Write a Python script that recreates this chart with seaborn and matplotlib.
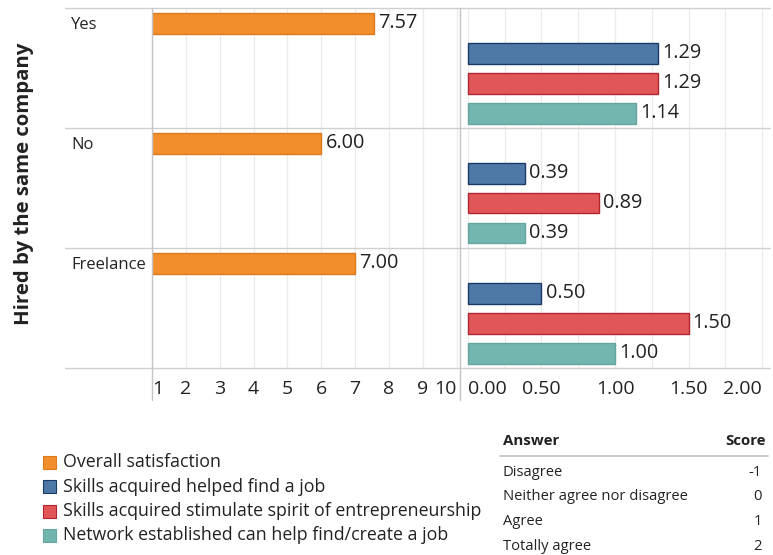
import numpy as np
import pandas as pd
import matplotlib
matplotlib.use("Agg")
import matplotlib.pyplot as plt
import matplotlib.colors as mcolors
from matplotlib.lines import Line2D
from matplotlib.patches import Rectangle
import seaborn as sns

# ---------------- data ----------------
groups = ["Yes", "No", "Freelance"]
measures = [
    "Overall satisfaction",
    "Skills acquired helped find a job",
    "Skills acquired stimulate spirit of entrepreneurship",
    "Network established can help find/create a job",
]
satisfaction = [7.57, 6.00, 7.00]
helped_find_job = [1.29, 0.39, 0.50]
entrepreneurship = [1.29, 0.89, 1.50]
network = [1.14, 0.39, 1.00]
left_ticks = list(range(1, 11))
right_ticks = [0.0, 0.5, 1.0, 1.5, 2.0]
answers = ["Disagree", "Neither agree nor disagree", "Agree", "Totally agree"]
scores = ["-1", "0", "1", "2"]
y_title = "Hired by the same company"

colors = ["#F28E2B", "#4E79A7", "#E15759", "#72B6AF"]
edge_colors = ["#DD7A1C", "#1C3A66", "#B0262E", "#64A59F"]
palette = dict(zip(measures, colors))

left_df = pd.DataFrame({"group": groups, "measure": measures[0], "value": satisfaction})
right_df = pd.concat([
    pd.DataFrame({"group": groups, "measure": measures[1], "value": helped_find_job}),
    pd.DataFrame({"group": groups, "measure": measures[2], "value": entrepreneurship}),
    pd.DataFrame({"group": groups, "measure": measures[3], "value": network}),
], ignore_index=True)

# ---------------- style ----------------
sns.set_theme(style="white")
plt.rcParams["font.family"] = ["Open Sans", "DejaVu Sans"]
TXT = "#222222"
GRID = "#ebebeb"
LINE = "#cfcfcf"

W, H = 773, 555
def fx(px):
    return px / W
def fy(py):
    return 1 - py / H

fig = plt.figure(figsize=(W / 100, H / 100), dpi=100)
fig.patch.set_facecolor("white")

top, bot = 8, 368
axH = fig.add_axes([fx(65), fy(bot), fx(152) - fx(65), (bot - top) / H])
axL = fig.add_axes([fx(152), fy(bot), fx(460) - fx(152), (bot - top) / H])
axR = fig.add_axes([fx(460), fy(bot), fx(770) - fx(460), (bot - top) / H])

for ax, df in [(axL, left_df), (axR, right_df)]:
    sns.barplot(data=df, y="group", x="value", hue="measure", hue_order=measures,
                order=groups, palette=palette, orient="h", dodge=True, width=1.0,
                gap=0.3, saturation=1, legend=False, ax=ax, zorder=3)
    for p in ax.patches:
        fc = mcolors.to_hex(p.get_facecolor())
        for c, ec in zip(colors, edge_colors):
            if fc.lower() == c.lower():
                p.set_edgecolor(ec)
                p.set_linewidth(1.0)
    for cont in ax.containers:
        ax.bar_label(cont, fmt="%.2f", padding=3, fontsize=14.3, color=TXT)

# left panel axis
axL.set_xlim(1.0, 10.1)
axL.set_xticks(left_ticks)
axL.set_xticklabels([str(t) for t in left_ticks])
# right panel axis
axR.set_xlim(-0.054, 2.054)
axR.set_xticks(right_ticks)
axR.set_xticks(np.arange(0, 2.01, 0.25), minor=True)
axR.set_xticklabels([f"{t:.2f}" for t in right_ticks])

for ax in (axL, axR):
    ax.set_ylabel("")
    ax.set_xlabel("")
    ax.set_yticks([])
    for s in ax.spines.values():
        s.set_visible(False)
    ax.grid(False)
    ax.xaxis.grid(True, which="both", color=GRID, lw=0.9, zorder=0)
    ax.set_axisbelow(True)
    ax.tick_params(axis="x", which="both", length=0, pad=9, labelsize=14, labelcolor=TXT)
    labs = ax.get_xticklabels()
    labs[0].set_horizontalalignment("left")
    labs[-1].set_horizontalalignment("right")

# header axis with row labels
axH.set_ylim(axL.get_ylim())
axH.set_xlim(0, 1)
axH.axis("off")
for i, g in enumerate(groups):
    axH.text(0.07, i - 0.36, g, va="center", ha="left", fontsize=12, color=TXT)

# row separators
for ax in (axH, axL, axR):
    for yv in [-0.5, 0.5, 1.5, 2.5]:
        ax.axhline(yv, color=LINE, lw=1.0, zorder=1, clip_on=False)

# vertical panel lines
for xp in (152, 460):
    fig.add_artist(Line2D([fx(xp), fx(xp)], [fy(top), fy(400)],
                          transform=fig.transFigure, color="#c4c4c4", lw=1.0))

# y title
fig.text(fx(24), fy(184), y_title, rotation=90, ha="center", va="center",
         fontsize=14.7, fontweight="bold", color=TXT)

# legend
leg_y = [462, 486.5, 511, 535.5]
for m, c, ec, yy in zip(measures, colors, edge_colors, leg_y):
    fig.add_artist(Rectangle((fx(43), fy(yy + 6.5)), 13 / W, 13 / H,
                             transform=fig.transFigure, facecolor=c, edgecolor=ec, lw=0.8))
    fig.text(fx(63), fy(yy), m, ha="left", va="center", fontsize=12.8, color=TXT)

# score table
fig.text(fx(503), fy(441), "Answer", ha="left", va="center", fontsize=10.8,
         fontweight="bold", color=TXT)
fig.text(fx(766), fy(441), "Score", ha="right", va="center", fontsize=10.8,
         fontweight="bold", color=TXT)
fig.add_artist(Line2D([fx(500), fx(768)], [fy(456), fy(456)],
                      transform=fig.transFigure, color="#c4c4c4", lw=1.2))
for k, (a, s) in enumerate(zip(answers, scores)):
    yy = 472 + 24.7 * k
    fig.text(fx(503), fy(yy), a, ha="left", va="center", fontsize=10.6, color=TXT)
    fig.text(fx(762), fy(yy), s, ha="right", va="center", fontsize=10.6, color=TXT)

fig.savefig("out.png", dpi=100, facecolor="white")
